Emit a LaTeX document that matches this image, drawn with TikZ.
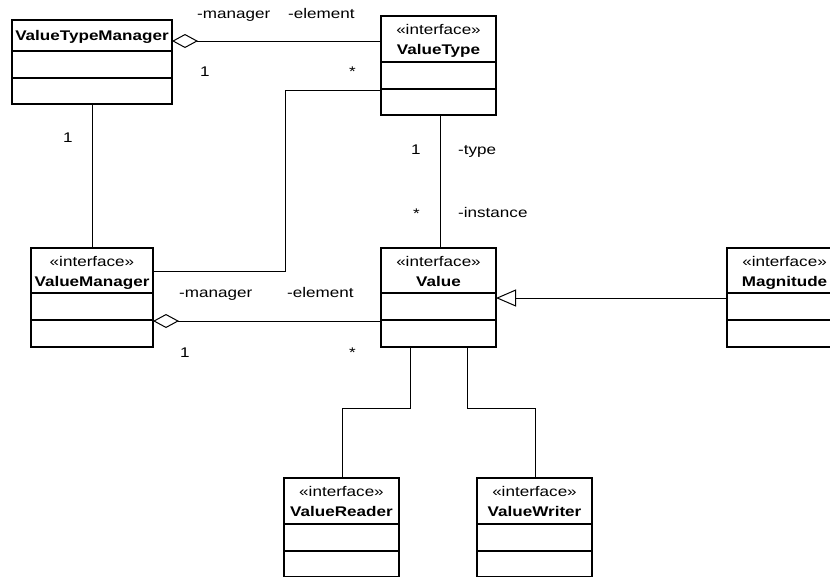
\documentclass[tikz,border=0pt]{standalone}
\usepackage{fontspec}
\setmainfont{Liberation Sans}[FakeStretch=1.22]
\usetikzlibrary{arrows.meta}
\begin{document}
\begin{tikzpicture}[x=1pt,y=-1pt,
  cls/.style={draw,line width=1.5pt,inner sep=0pt,outer sep=0pt,rectangle,minimum width=115pt,minimum height=99pt},
  sepline/.style={line width=1.5pt},
  conn/.style={line width=1pt},
  txt/.style={inner sep=0pt,anchor=base,font=\fontsize{14}{16}\selectfont},
  ttl/.style={inner sep=0pt,anchor=base,font=\fontsize{14}{16}\selectfont\bfseries},
  lbl/.style={inner sep=0pt,anchor=base west,font=\fontsize{14}{16}\selectfont},
  agg/.style={conn,{Diamond[open,length=26pt,width=14pt]}-},
  gen/.style={conn,-{Triangle[open,length=20pt,width=17pt]}}]
\path[use as bounding box] (0,0) rectangle (830,576);
\clip (0,0) rectangle (830,576);

% ValueTypeManager
\node[cls,minimum width=160pt,minimum height=84pt] (vtm) at (92,62) {};
\draw[sepline] (vtm.west |- 0,51) -- (vtm.east |- 0,51);
\draw[sepline] (vtm.west |- 0,78) -- (vtm.east |- 0,78);
\node[ttl] (vtmN) at (92,40) {ValueTypeManager};

% ValueType
\node[cls] (vt) at (438.5,65.5) {};
\draw[sepline] (vt.west |- 0,62) -- (vt.east |- 0,62);
\draw[sepline] (vt.west |- 0,89) -- (vt.east |- 0,89);
\node[txt] (vtS) at (438.5,34) {«interface»};
\node[ttl] (vtN) at (438.5,54) {ValueType};

% ValueManager
\node[cls,minimum width=122pt] (vm) at (92,297.5) {};
\draw[sepline] (vm.west |- 0,293) -- (vm.east |- 0,293);
\draw[sepline] (vm.west |- 0,320) -- (vm.east |- 0,320);
\node[txt] (vmS) at (92,266) {«interface»};
\node[ttl] (vmN) at (92,286) {ValueManager};

% Value
\node[cls] (val) at (438.5,297.5) {};
\draw[sepline] (val.west |- 0,293) -- (val.east |- 0,293);
\draw[sepline] (val.west |- 0,320) -- (val.east |- 0,320);
\node[txt] (valS) at (438.5,266) {«interface»};
\node[ttl] (valN) at (438.5,286) {Value};

% Magnitude
\node[cls] (mag) at (784.5,297.5) {};
\draw[sepline] (mag.west |- 0,293) -- (mag.east |- 0,293);
\draw[sepline] (mag.west |- 0,320) -- (mag.east |- 0,320);
\node[txt] (magS) at (784.5,266) {«interface»};
\node[ttl] (magN) at (784.5,286) {Magnitude};

% ValueReader
\node[cls] (vr) at (341.5,527.5) {};
\draw[sepline] (vr.west |- 0,524) -- (vr.east |- 0,524);
\draw[sepline] (vr.west |- 0,551) -- (vr.east |- 0,551);
\node[txt] (vrS) at (341.5,496) {«interface»};
\node[ttl] (vrN) at (341.5,516) {ValueReader};

% ValueWriter
\node[cls] (vw) at (534.5,527.5) {};
\draw[sepline] (vw.west |- 0,524) -- (vw.east |- 0,524);
\draw[sepline] (vw.west |- 0,551) -- (vw.east |- 0,551);
\node[txt] (vwS) at (534.5,496) {«interface»};
\node[ttl] (vwN) at (534.5,516) {ValueWriter};

% connectors
\draw[agg] (vtm.east |- 0,41) -- (vt.west |- 0,41);
\draw[conn] (vtm.south) -- (vm.north);
\draw[conn] (vm.east |- 0,271) -- (285,271) |- (vt.west |- 0,90);
\draw[conn] (vt.south -| 440,0) -- (val.north -| 440,0);
\draw[agg] (vm.east |- 0,321) -- (val.west |- 0,321);
\draw[gen] (mag.west |- 0,298) -- (val.east |- 0,298);
\draw[conn] (val.south -| 410,0) -- (410,408) -| (vr.north -| 342,0);
\draw[conn] (val.south -| 467,0) -- (467,408) -| (vw.north -| 535,0);

% labels
\node[lbl] (l1) at (197,18) {-manager};
\node[lbl] (l2) at (288,18) {-element};
\node[lbl] (l3) at (200,76) {1};
\node[lbl] (l4) at (349,76) {*};
\node[lbl] (l5) at (63,142) {1};
\node[lbl] (l6) at (411,154) {1};
\node[lbl] (l7) at (458,154) {-type};
\node[lbl] (l8) at (413,218) {*};
\node[lbl] (l9) at (458,217) {-instance};
\node[lbl] (l10) at (179,297) {-manager};
\node[lbl] (l11) at (287,297) {-element};
\node[lbl] (l12) at (180,357) {1};
\node[lbl] (l13) at (349,357) {*};
\end{tikzpicture}
\end{document}
